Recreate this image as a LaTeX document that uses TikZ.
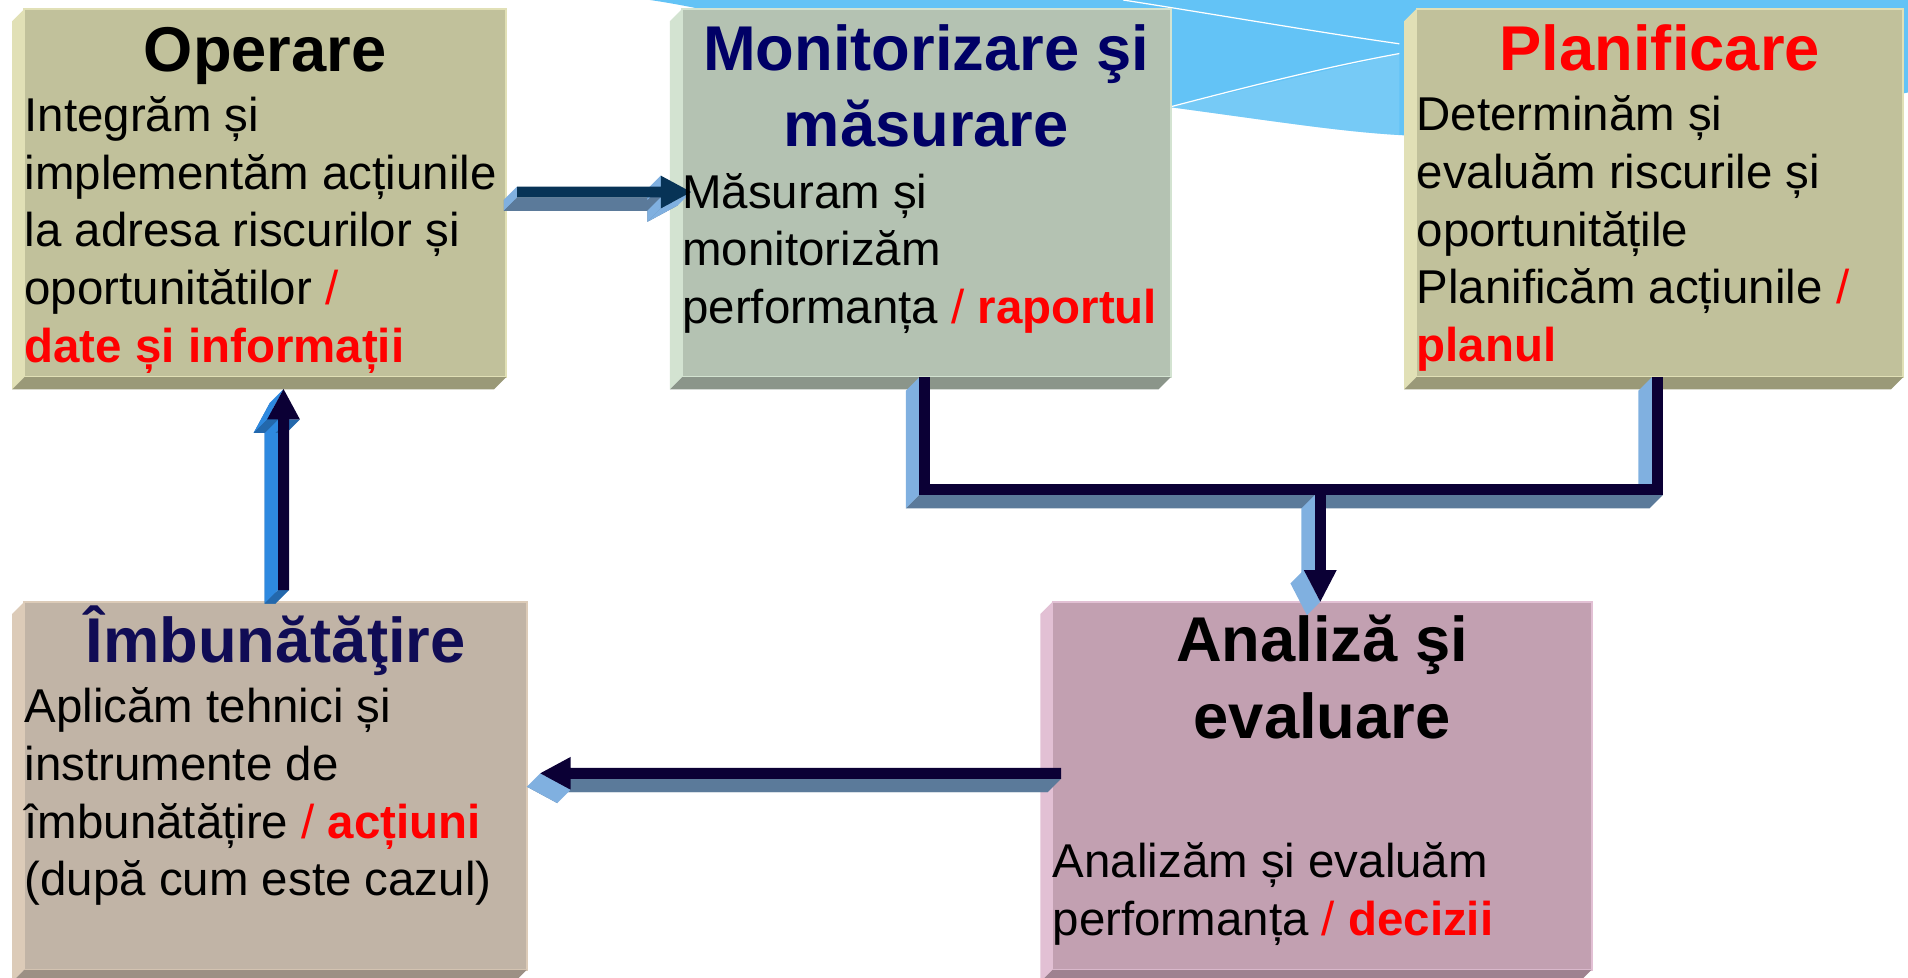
\documentclass[tikz,border=0pt]{standalone}
\usepackage{fontspec}
\setmainfont{Liberation Sans}
\usetikzlibrary{calc}

\definecolor{swoosh}{HTML}{63C3F6}
\definecolor{swooshlt}{HTML}{9AD8F8}
\definecolor{opface}{HTML}{C1C19B}
\definecolor{oplt}{HTML}{E1E0B6}
\definecolor{opdk}{HTML}{9A9978}
\definecolor{monface}{HTML}{B4C2B2}
\definecolor{monlt}{HTML}{D3E3D1}
\definecolor{mondk}{HTML}{8B958A}
\definecolor{imface}{HTML}{C1B4A6}
\definecolor{imlt}{HTML}{DCCBB8}
\definecolor{imdk}{HTML}{9C9085}
\definecolor{anface}{HTML}{C2A0B1}
\definecolor{anlt}{HTML}{E2C0D4}
\definecolor{andk}{HTML}{9E8290}
\definecolor{navy}{HTML}{000066}
\definecolor{navyb}{HTML}{100C55}
\definecolor{arrdk}{HTML}{0B0035}
\definecolor{arrteal}{HTML}{073356}
\definecolor{sidelt}{HTML}{80B0E0}
\definecolor{sidedk}{HTML}{5B7A9A}
\definecolor{sidebl}{HTML}{2E89E0}
\definecolor{sidebd}{HTML}{2368AC}

\tikzset{
  boxface/.style={rectangle, inner sep=0, outer sep=0, anchor=north west, fill=#1face, draw=#1lt, line width=1.5pt},
  ttl/.style={font=\fontsize{52}{62.6}\selectfont\bfseries, align=center, anchor=base, inner sep=0},
  txt/.style={font=\fontsize{39}{47.4}\selectfont, align=left, anchor=base west, inner sep=0}
}

% 3d edge of a box
\newcommand{\boxbevel}[2]{%
  \fill[#2lt] (#1.north west) -- (#1.south west) -- ([shift={(-10,10)}]#1.south west) -- ([shift={(-10,10)}]#1.north west) -- cycle;
  \fill[#2dk] (#1.south west) -- (#1.south east) -- ([shift={(-10,10)}]#1.south east) -- ([shift={(-10,10)}]#1.south west) -- cycle;}

% arrow to the right: tail #1, tip #2, front #3, light side #4, dark side #5
\newcommand{\harrowR}[5]{%
  \fill[#5] ($(#1)+(-11,6.5)$) -- ($(#2)+(-36,6.5)$) -- ($(#2)+(-36,-2)$) -- ($(#2)+(-11,11)$) -- ($(#2)+(-36,24.5)$) -- ($(#2)+(-36,15.5)$) -- ($(#1)+(-11,15.5)$) -- cycle;
  \fill[#4] ($(#1)+(0,-4.5)$) -- ($(#1)+(0,4.5)$) -- ($(#1)+(-11,15.5)$) -- ($(#1)+(-11,6.5)$) -- cycle;
  \fill[#5] ($(#1)+(0,4.5)$) -- ($(#2)+(-25,4.5)$) -- ($(#2)+(-36,15.5)$) -- ($(#1)+(-11,15.5)$) -- cycle;
  \fill[#4] ($(#2)+(-25,-13.5)$) -- ($(#2)+(-25,-4.5)$) -- ($(#2)+(-36,6.5)$) -- ($(#2)+(-36,-2.5)$) -- cycle;
  \fill[#4] ($(#2)+(-25,4.5)$) -- ($(#2)+(-25,13.5)$) -- ($(#2)+(-36,24.5)$) -- ($(#2)+(-36,15.5)$) -- cycle;
  \fill[#4] ($(#2)+(-25,13.5)$) -- (#2) -- ($(#2)+(-11,11)$) -- ($(#2)+(-36,24.5)$) -- cycle;
  \fill[#3] ($(#1)+(0,-4.5)$) -- ($(#2)+(-25,-4.5)$) -- ($(#2)+(-25,-13.5)$) -- (#2) -- ($(#2)+(-25,13.5)$) -- ($(#2)+(-25,4.5)$) -- ($(#1)+(0,4.5)$) -- cycle;}

% arrow to the left
\newcommand{\harrowL}[5]{%
  \fill[#5] ($(#1)+(-11,6.5)$) -- ($(#2)+(14,6.5)$) -- ($(#2)+(14,-2.5)$) -- ($(#2)+(-11,11)$) -- ($(#2)+(14,24.5)$) -- ($(#2)+(14,15.5)$) -- ($(#1)+(-11,15.5)$) -- cycle;
  \fill[#5] ($(#1)+(0,4.5)$) -- ($(#2)+(25,4.5)$) -- ($(#2)+(14,15.5)$) -- ($(#1)+(-11,15.5)$) -- cycle;
  \fill[#4] (#2) -- ($(#2)+(25,13.5)$) -- ($(#2)+(14,24.5)$) -- ($(#2)+(-11,11)$) -- cycle;
  \fill[#3] ($(#1)+(0,-4.5)$) -- ($(#2)+(25,-4.5)$) -- ($(#2)+(25,-13.5)$) -- (#2) -- ($(#2)+(25,13.5)$) -- ($(#2)+(25,4.5)$) -- ($(#1)+(0,4.5)$) -- cycle;}

% arrow upwards
\newcommand{\varrowU}[5]{%
  \fill[#5] ($(#1)+(-15.5,11)$) -- ($(#2)+(-15.5,36)$) -- ($(#2)+(-24.5,36)$) -- ($(#2)+(-11,11)$) -- ($(#2)+(2.5,36)$) -- ($(#2)+(-6.5,36)$) -- ($(#1)+(-6.5,11)$) -- cycle;
  \fill[#4] ($(#1)+(-4.5,0)$) -- ($(#2)+(-4.5,25)$) -- ($(#2)+(-15.5,36)$) -- ($(#1)+(-15.5,11)$) -- cycle;
  \fill[#5] ($(#1)+(-4.5,0)$) -- ($(#1)+(4.5,0)$) -- ($(#1)+(-6.5,11)$) -- ($(#1)+(-15.5,11)$) -- cycle;
  \fill[#4] (#2) -- ($(#2)+(-13.5,25)$) -- ($(#2)+(-24.5,36)$) -- ($(#2)+(-11,11)$) -- cycle;
  \fill[#5] ($(#2)+(-13.5,25)$) -- ($(#2)+(-4.5,25)$) -- ($(#2)+(-15.5,36)$) -- ($(#2)+(-24.5,36)$) -- cycle;
  \fill[#5] ($(#2)+(4.5,25)$) -- ($(#2)+(13.5,25)$) -- ($(#2)+(2.5,36)$) -- ($(#2)+(-6.5,36)$) -- cycle;
  \fill[#3] ($(#1)+(-4.5,0)$) -- ($(#2)+(-4.5,25)$) -- ($(#2)+(-13.5,25)$) -- (#2) -- ($(#2)+(13.5,25)$) -- ($(#2)+(4.5,25)$) -- ($(#1)+(4.5,0)$) -- cycle;}

\begin{document}
\begin{tikzpicture}[x=1pt, y=-1pt]
  \useasboundingbox (0,0) rectangle (1568,803);
  % background swoosh
  \fill[swoosh] (534,0) .. controls (620,12) and (820,70) .. (961,88) .. controls (1050,100) and (1100,108) .. (1150,111) .. controls (1300,120) and (1450,100) .. (1568,76) -- (1568,0) -- cycle;
  \fill[swooshlt, opacity=.35] (961,88) -- (1150,44) -- (1150,111) .. controls (1100,108) and (1050,100) .. (961,88) -- cycle;
  \draw[white, line width=1pt] (923,0) .. controls (1000,12) and (1080,26) .. (1150,36);
  \draw[white, line width=1pt] (961,88) .. controls (1030,70) and (1090,55) .. (1150,44);

  % boxes
  \node[boxface=op, minimum width=396, minimum height=302.6] (op) at (20,7.4) {};
  \node[boxface=mon, minimum width=401.5, minimum height=302.6] (mon) at (560.5,7.4) {};
  \node[boxface=op, minimum width=400, minimum height=302.6] (pl) at (1164,7.4) {};
  \node[boxface=im, minimum width=413, minimum height=302.5] (im) at (20,494.5) {};
  \node[boxface=an, minimum width=443, minimum height=302.5] (an) at (865,494.5) {};
  \boxbevel{op}{op}
  \boxbevel{mon}{mon}
  \boxbevel{pl}{op}
  \boxbevel{im}{im}
  \boxbevel{an}{an}

  % arrows
  \coordinate (a1s) at ($(op.north east)+(9,150.4)$);
  \coordinate (a1t) at ($(mon.north west)+(7.5,150.4)$);
  \coordinate (a2s) at ($(im.north west)+(213,-9.5)$);
  \coordinate (a2t) at ($(op.south west)+(213,9.7)$);
  \coordinate (a4s) at ($(an.north west)+(7,141)$);
  \coordinate (a4t) at ($(im.north east)+(11,141)$);
  \harrowR{a1s}{a1t}{arrteal}{sidelt}{sidedk}
  \varrowU{a2s}{a2t}{arrdk}{sidebl}{sidebd}
  \harrowL{a4s}{a4t}{arrdk}{sidelt}{sidedk}

  % connector from monitorizare and planificare
  \coordinate (c1) at ($(mon.south west)+(199.5,0)$);
  \coordinate (c2) at ($(pl.south west)+(198,0)$);
  \coordinate (ct) at ($(an.north west)+(220,0)$);
  \coordinate (k1) at ($(c1)+(0,92.3)$);
  \coordinate (k2) at (c2 |- k1);
  \coordinate (kb) at (ct |- k1);
  \fill[sidelt] ($(c1)+(-4.5,0)$) -- ($(k1)+(-4.5,4.5)$) -- ($(k1)+(-15.5,15.5)$) -- ($(c1)+(-15.5,11)$) -- cycle;
  \fill[sidelt] ($(c2)+(-4.5,0)$) -- ($(k2)+(-4.5,-4.5)$) -- ($(k2)+(-15.5,6.5)$) -- ($(c2)+(-15.5,11)$) -- cycle;
  \fill[sidedk] ($(k1)+(-4.5,4.5)$) -- ($(k2)+(4.5,4.5)$) -- ($(k2)+(-6.5,15.5)$) -- ($(k1)+(-15.5,15.5)$) -- cycle;
  \fill[sidelt] ($(kb)+(-4.5,4.5)$) -- ($(ct)+(-4.5,-26)$) -- ($(ct)+(-15.5,-15)$) -- ($(kb)+(-15.5,15.5)$) -- cycle;
  \fill[sidelt] ($(ct)+(-13.5,-26)$) -- (ct) -- ($(ct)+(-11,11)$) -- ($(ct)+(-24.5,-15)$) -- cycle;
  \draw[arrdk, line width=9pt, line join=miter] (c1) -- (k1) -- (k2) -- (c2);
  \draw[arrdk, line width=9pt] (kb) -- ($(ct)+(0,-25)$);
  \fill[arrdk] ($(ct)+(-13.5,-26)$) -- ($(ct)+(13.5,-26)$) -- (ct) -- cycle;

  % texts (a node with several lines sits on its last baseline)
  \node[ttl] (opT) at ($(op.north)+(0,51.6)$) {Operare};
  \node[txt] (opB) at ($(op.north west)+(0,290.2)$) {Integrăm și\\implementăm acțiunile\\la adresa riscurilor și\\oportunitătilor {\color{red}/}\\{\color{red}\bfseries date și informații}};
  \node[ttl, text=navy] (monT) at ($(mon.north)+(0,113.2)$) {Monitorizare şi\\măsurare};
  \node[txt] (monB) at ($(mon.north west)+(0,258.4)$) {Măsuram și\\monitorizăm\\performanța {\color{red}/ \bfseries raportul}};
  \node[ttl, text=red] (plT) at ($(pl.north)+(0,50.6)$) {Planificare};
  \node[txt] (plB) at ($(pl.north west)+(0,289.6)$) {Determinăm și\\evaluăm riscurile și\\oportunitățile\\Planificăm acțiunile {\color{red}/}\\{\color{red}\bfseries planul}};
  \node[ttl, text=navyb] (imT) at ($(im.north)+(0,50)$) {Îmbunătăţire};
  \node[txt] (imB) at ($(im.north west)+(0,241.7)$) {Aplicăm tehnici și\\instrumente de\\îmbunătățire {\color{red}/ \bfseries acțiuni}\\(după cum este cazul)};
  \node[ttl] (anT) at ($(an.north)+(0,112.1)$) {Analiză şi\\evaluare};
  \node[txt] (anB) at ($(an.north west)+(0,273.9)$) {Analizăm și evaluăm\\performanța {\color{red}/ \bfseries decizii}};
\end{tikzpicture}
\end{document}
